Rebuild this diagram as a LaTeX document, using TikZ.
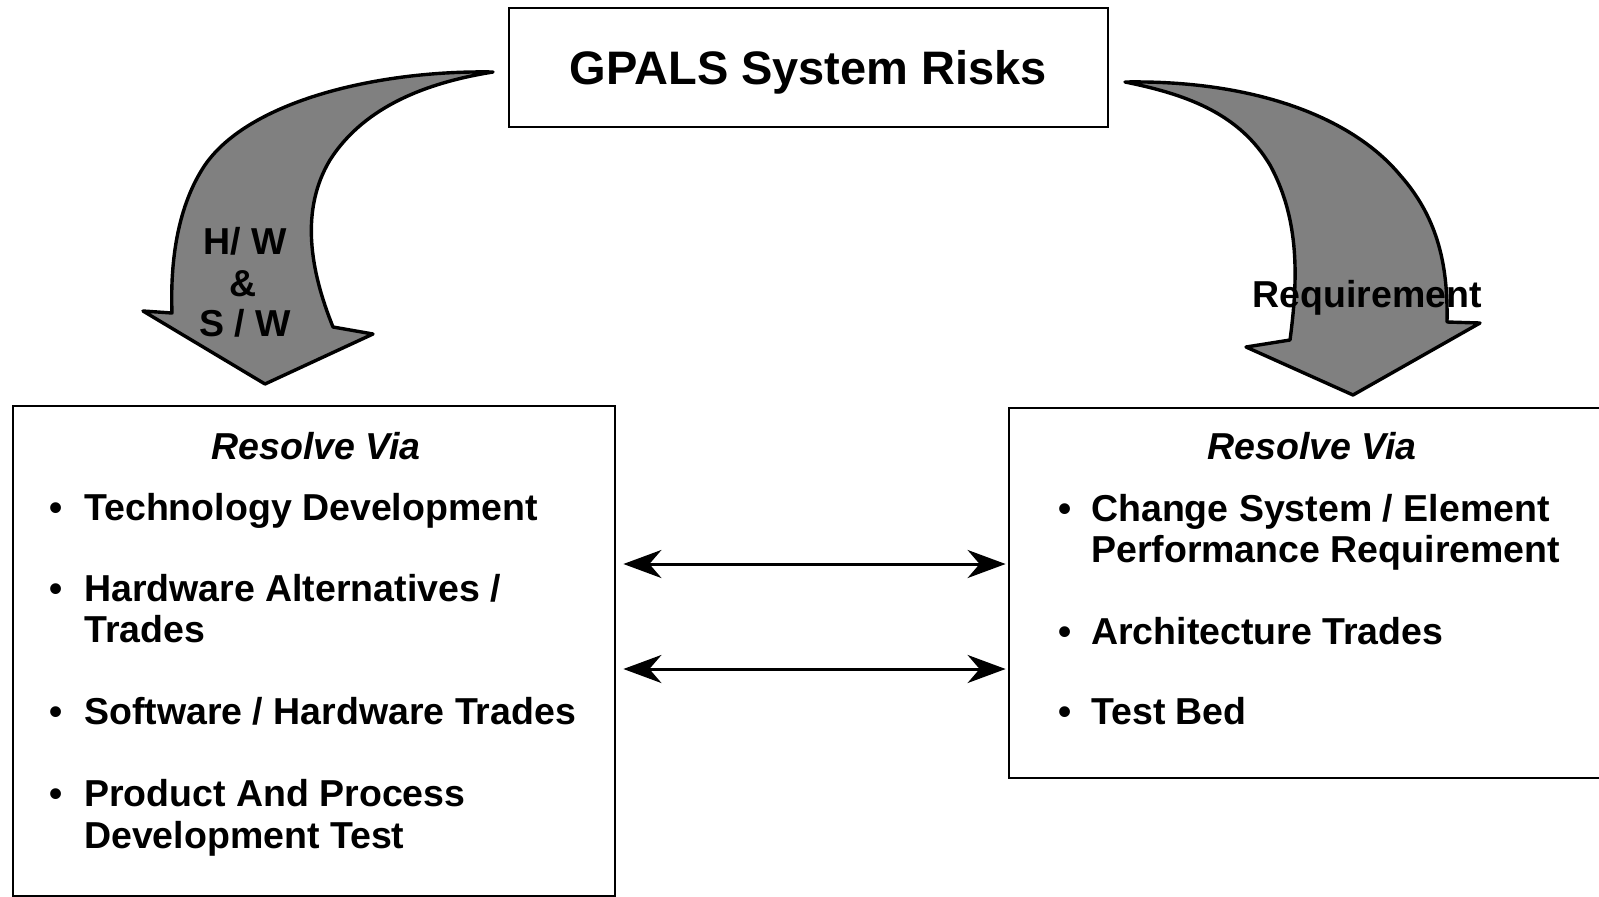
\documentclass[tikz,border=0pt]{standalone}
\usepackage{fontspec}
\setmainfont{Liberation Sans}
\usetikzlibrary{arrows.meta}
\begin{document}
\begin{tikzpicture}[x=1pt,y=-1pt,
  box/.style={draw, line width=2.8pt, inner sep=0pt},
  body/.style={font=\fontsize{37.5}{41}\selectfont\bfseries, inner sep=0pt, anchor=base west},
  bul/.style={font=\fontsize{37.5}{41}\selectfont\bfseries, inner sep=0pt, anchor=base},
  hd/.style={font=\fontsize{37.5}{41}\selectfont\bfseries\itshape, inner sep=0pt, anchor=base},
  bigarrow/.style={draw, line width=3.4pt, fill=black!50, line join=round},
  dbl/.style={line width=3pt, {Stealth[length=38pt,width=28pt,inset=12pt]}-{Stealth[length=38pt,width=28pt,inset=12pt]}, shorten <=7pt, shorten >=2pt}
]
\useasboundingbox (0,0) rectangle (1599,897);
\clip (0,0) rectangle (1599,897);

% boxes
\node[box, minimum width=599pt, minimum height=119pt, text height=35pt, text depth=2pt, font=\fontsize{47}{50}\selectfont\bfseries] (top) at (808.5,67.5) {GPALS System Risks};
\node[box, minimum width=602pt, minimum height=490pt] (lbox) at (314,651) {};
\node[box, minimum width=606pt, minimum height=370pt] (rbox) at (1312,593) {};

% curved arrows
\draw[bigarrow] (493,72) .. controls (380,70) and (250,100) .. (205,165)
  .. controls (178,205) and (170,260) .. (172,313)
  -- (143,311) -- (265,384) -- (373,334) -- (333,327)
  .. controls (310,270) and (300,210) .. (330,160)
  .. controls (365,105) and (430,82) .. (493,72) -- cycle;
\draw[bigarrow] (1125,82) .. controls (1250,80) and (1350,115) .. (1400,175)
  .. controls (1440,220) and (1448,270) .. (1447,322)
  -- (1480,323) -- (1353,395) -- (1246,347) -- (1290,340)
  .. controls (1298,280) and (1300,220) .. (1270,165)
  .. controls (1240,115) and (1190,95) .. (1125,82) -- cycle;

\node[bul] (hw) at (245,254) {H/ W};
\node[bul] (amp) at (243,296) {\&};
\node[bul] (sw) at (245,336) {S / W};
\node[bul] (req) at (1367,307) {Requirement};

% left box text
\node[hd] (lhd) at (316,459) {Resolve Via};
\node[bul] (lb1) at (56,520) {•};
\node[body] (lt1) at (84,520) {Technology Development};
\node[bul] (lb2) at (56,601) {•};
\node[body] (lt2a) at (84,601) {Hardware Alternatives /};
\node[body] (lt2b) at (84,642) {Trades};
\node[bul] (lb3) at (56,724) {•};
\node[body] (lt3) at (84,724) {Software / Hardware Trades};
\node[bul] (lb4) at (56,806) {•};
\node[body] (lt4a) at (84,806) {Product And Process};
\node[body] (lt4b) at (84,848) {Development Test};

% right box text
\node[hd] (rhd) at (1312,459) {Resolve Via};
\node[bul] (rb1) at (1065,521) {•};
\node[body] (rt1a) at (1091,521) {Change System / Element};
\node[body] (rt1b) at (1091,562) {Performance Requirement};
\node[bul] (rb2) at (1065,644) {•};
\node[body] (rt2) at (1091,644) {Architecture Trades};
\node[bul] (rb3) at (1065,724) {•};
\node[body] (rt3) at (1091,724) {Test Bed};

% double arrows
\coordinate (y1) at (0,564);
\coordinate (y2) at (0,669);
\draw[dbl] (lbox.east |- y1) -- (rbox.west |- y1);
\draw[dbl] (lbox.east |- y2) -- (rbox.west |- y2);
\end{tikzpicture}
\end{document}
